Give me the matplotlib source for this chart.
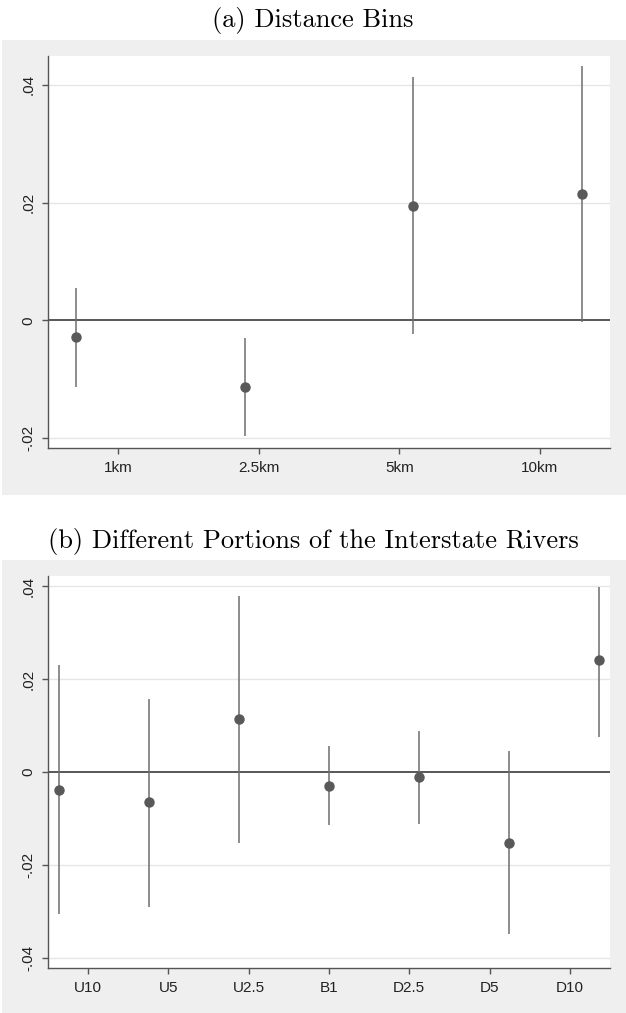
import matplotlib
matplotlib.use("Agg")
import matplotlib.pyplot as plt
from matplotlib.patches import Rectangle

# panel (a): distance bins
labels_a = ["1km", "2.5km", "5km", "10km"]
pos_a = [0.7, 1.9, 3.1, 4.3]
coef_a = [-0.0029, -0.0113, 0.0195, 0.0214]
lo_a = [-0.0114, -0.0197, -0.0024, -0.0003]
hi_a = [0.0055, -0.0030, 0.0414, 0.0432]
yticks_a = [-0.02, 0, 0.02, 0.04]

# panel (b): portions of the interstate rivers
labels_b = ["U10", "U5", "U2.5", "B1", "D2.5", "D5", "D10"]
pos_b = [0.64, 1.76, 2.88, 4.0, 5.12, 6.24, 7.36]
coef_b = [-0.0039, -0.0065, 0.0114, -0.0030, -0.0011, -0.0153, 0.0241]
lo_b = [-0.0305, -0.0290, -0.0153, -0.0114, -0.0112, -0.0348, 0.0075]
hi_b = [0.0230, 0.0157, 0.0378, 0.0056, 0.0088, 0.0045, 0.0398]
yticks_b = [-0.04, -0.02, 0, 0.02, 0.04]


def fmt(v):
    if v == 0:
        return "0"
    s = "%.2f" % v
    return s.replace("0.", ".")


def panel(ax, labels, pos, coef, lo, hi, yticks, ylim):
    ax.set_facecolor("white")
    for t in yticks:
        if t != 0:
            ax.axhline(t, color="#e6e6e6", lw=1.0, zorder=0)
    ax.axhline(0, color="#4a4a4a", lw=1.3, zorder=1)
    ax.vlines(pos, lo, hi, color="#6e6e6e", lw=1.1, zorder=2)
    ax.plot(pos, coef, "o", color="#595959", ms=6.5, zorder=3)
    ax.set_xlim(0.5, len(labels) + 0.5)
    ax.set_ylim(*ylim)
    ax.set_xticks(range(1, len(labels) + 1))
    ax.set_xticklabels(labels)
    ax.set_yticks(yticks)
    ax.set_yticklabels([fmt(t) for t in yticks], rotation=90, va="center")
    for s in ["top", "right"]:
        ax.spines[s].set_visible(False)
    for s in ["left", "bottom"]:
        ax.spines[s].set_color("#555555")
        ax.spines[s].set_linewidth(1.0)
    ax.tick_params(direction="out", length=4, width=1, color="#555555",
                   labelsize=11, labelcolor="#222222", pad=5)
    for lab in ax.get_xticklabels() + ax.get_yticklabels():
        lab.set_family("Liberation Sans")


fig = plt.figure(figsize=(6.26, 10.13), dpi=100)
fig.patch.set_facecolor("white")

# grey outer regions
fig.patches.append(Rectangle((2 / 626, 1 - 495 / 1013), 624 / 626, 455 / 1013,
                             transform=fig.transFigure, facecolor="#efefef",
                             edgecolor="none", zorder=-10))
fig.patches.append(Rectangle((2 / 626, 0), 624 / 626, 453 / 1013,
                             transform=fig.transFigure, facecolor="#efefef",
                             edgecolor="none", zorder=-10))

ax1 = fig.add_axes([48 / 626, 1 - 448 / 1013, 562 / 626, 392 / 1013])
ax2 = fig.add_axes([48 / 626, 1 - 968 / 1013, 562 / 626, 392 / 1013])

panel(ax1, labels_a, pos_a, coef_a, lo_a, hi_a, yticks_a, (-0.0217, 0.0449))
panel(ax2, labels_b, pos_b, coef_b, lo_b, hi_b, yticks_b, (-0.0422, 0.0422))

fig.text(0.5, 1 - 20 / 1013, "(a) Distance Bins", ha="center", va="center",
         family="cmr10", fontsize=19)
fig.text(0.5, 1 - 541 / 1013, "(b) Different Portions of the Interstate Rivers",
         ha="center", va="center", family="cmr10", fontsize=19)

fig.savefig("out.png", dpi=100)
